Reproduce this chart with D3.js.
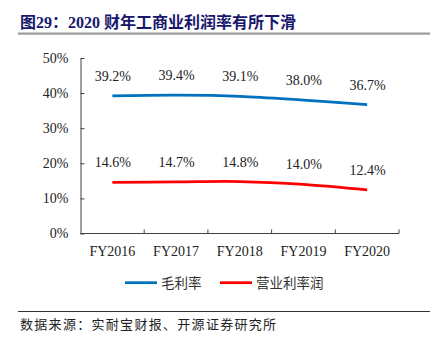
<!DOCTYPE html>
<html>
<head>
<meta charset="utf-8">
<script src="https://cdn.jsdelivr.net/npm/d3@7"></script>
<style>
  html, body { margin: 0; padding: 0; background: #fff; }
  svg { display: block; }
</style>
</head>
<body>
<svg id="chart" width="437" height="342"></svg>
<script>
// Fiscal years on the x axis
const categories = ["FY2016", "FY2017", "FY2018", "FY2019", "FY2020"];
// Gross margin (%)
const grossMargin = [39.2, 39.4, 39.1, 38.0, 36.7];
// Operating margin (%)
const operatingMargin = [14.6, 14.7, 14.8, 14.0, 12.4];
// Y axis ticks (%)
const yTicks = [0, 10, 20, 30, 40, 50];
// Series names shown in the legend
const seriesNames = ["毛利率", "营业利率润"];

const titleText = "图29：2020 财年工商业利润率有所下滑";
const sourceText = "数据来源：实耐宝财报、开源证券研究所";

const svg = d3.select("#chart");
const serif = "'Liberation Serif', 'Times New Roman', serif";
const cjk = "'Noto Sans CJK SC', sans-serif";

// Title and rule beneath it
svg.append("text")
  .attr("x", 20).attr("y", 28)
  .attr("font-family", serif + ", " + cjk)
  .attr("font-weight", "bold")
  .attr("font-size", 16)
  .attr("fill", "#17176b")
  .text(titleText);
svg.append("rect")
  .attr("x", 18).attr("y", 32.5).attr("width", 412).attr("height", 2.2)
  .attr("fill", "#9a9a9a");

// Scales
const x = d3.scaleBand().domain(categories).range([80.5, 399]);
const y = d3.scaleLinear().domain([0, 50]).range([233.5, 58]);

// Y axis with ticks pointing inward
const yAxis = svg.append("g")
  .attr("transform", "translate(80.5,0)")
  .call(d3.axisLeft(y).tickValues(yTicks).tickSize(-4).tickSizeOuter(0)
    .tickPadding(12).tickFormat(d => d + "%"));
yAxis.select(".domain").attr("stroke", "#404040");
yAxis.selectAll(".tick line").attr("stroke", "#404040");
yAxis.selectAll("text")
  .attr("font-family", serif).attr("font-size", 14).attr("fill", "#222");

// X axis: baseline, inward ticks at category boundaries, labels centred
const xg = svg.append("g");
xg.append("line")
  .attr("x1", x.range()[0]).attr("x2", x.range()[1])
  .attr("y1", y(0)).attr("y2", y(0))
  .attr("stroke", "#404040");
xg.selectAll("line.tick")
  .data(categories)
  .join("line")
  .attr("class", "tick")
  .attr("x1", d => x(d) + x.bandwidth()).attr("x2", d => x(d) + x.bandwidth())
  .attr("y1", y(0)).attr("y2", y(0) - 4)
  .attr("stroke", "#404040");
xg.selectAll("text")
  .data(categories)
  .join("text")
  .attr("x", d => x(d) + x.bandwidth() / 2)
  .attr("y", 256)
  .attr("text-anchor", "middle")
  .attr("font-family", serif).attr("font-size", 14).attr("fill", "#222")
  .text(d => d);

// Lines
const series = [
  { name: seriesNames[0], values: grossMargin, color: "#0070c0" },
  { name: seriesNames[1], values: operatingMargin, color: "#ff0000" }
];
const line = d3.line()
  .x((d, i) => x(categories[i]) + x.bandwidth() / 2)
  .y(d => y(d))
  .curve(d3.curveCatmullRom.alpha(0.5));

series.forEach(s => {
  svg.append("path")
    .datum(s.values)
    .attr("d", line)
    .attr("fill", "none")
    .attr("stroke", s.color)
    .attr("stroke-width", 2.75)
    .attr("stroke-linecap", "butt");
  svg.append("g").selectAll("text")
    .data(s.values)
    .join("text")
    .attr("x", (d, i) => x(categories[i]) + x.bandwidth() / 2 + 0.5)
    .attr("y", d => y(d) - 15)
    .attr("text-anchor", "middle")
    .attr("font-family", serif).attr("font-size", 14).attr("fill", "#222")
    .text(d => d.toFixed(1) + "%");
});

// Legend
const legendItems = [
  { x: 125, color: series[0].color, name: series[0].name },
  { x: 220, color: series[1].color, name: series[1].name }
];
const lg = svg.append("g");
legendItems.forEach(it => {
  lg.append("line")
    .attr("x1", it.x).attr("x2", it.x + 32)
    .attr("y1", 282.7).attr("y2", 282.7)
    .attr("stroke", it.color).attr("stroke-width", 2.75);
  lg.append("text")
    .attr("x", it.x + 36).attr("y", 287.5)
    .attr("font-family", cjk).attr("font-size", 13.5).attr("fill", "#333")
    .text(it.name);
});

// Source note and rule above it
svg.append("rect")
  .attr("x", 18).attr("y", 311).attr("width", 412).attr("height", 1)
  .attr("fill", "#333");
svg.append("text")
  .attr("x", 20).attr("y", 329)
  .attr("font-family", cjk).attr("font-size", 13)
  .attr("letter-spacing", 1.3)
  .attr("fill", "#222")
  .text(sourceText);
</script>
</body>
</html>
